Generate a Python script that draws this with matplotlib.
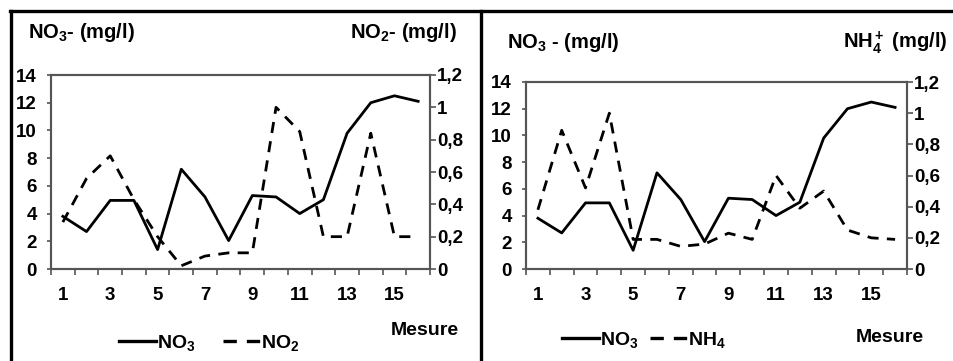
import matplotlib.pyplot as plt
from matplotlib.lines import Line2D

plt.rcParams['font.family'] = ['Liberation Sans', 'DejaVu Sans']
plt.rcParams['font.weight'] = 'bold'
plt.rcParams['mathtext.fontset'] = 'custom'
plt.rcParams['mathtext.rm'] = 'Liberation Sans:bold'
plt.rcParams['mathtext.it'] = 'Liberation Sans:bold'
plt.rcParams['mathtext.bf'] = 'Liberation Sans:bold'
plt.rcParams['mathtext.default'] = 'rm'

#data
mesure = list(range(1, 17))
no3 = [3.8, 2.7, 4.95, 4.95, 1.4, 7.2, 5.2, 2.05, 5.3, 5.2, 4.0, 5.0, 9.8, 12.0, 12.5, 12.1]
no2 = [0.29, 0.56, 0.70, 0.43, 0.20, 0.02, 0.08, 0.10, 0.10, 1.0, 0.85, 0.20, 0.20, 0.84, 0.20, 0.20]
nh4 = [0.38, 0.89, 0.52, 1.0, 0.19, 0.19, 0.145, 0.16, 0.23, 0.19, 0.60, 0.39, 0.50, 0.25, 0.20, 0.19]

left_ticks = [0, 2, 4, 6, 8, 10, 12, 14]
right_ticks = [0, 0.2, 0.4, 0.6, 0.8, 1.0, 1.2]
right_labels = ['0', '0,2', '0,4', '0,6', '0,8', '1', '1,2']
x_labels = [1, 3, 5, 7, 9, 11, 13, 15]

spine_col = '#555555'
dash = (0, (4, 3))

fig = plt.figure(figsize=(9.54, 3.61), dpi=100)


def draw_panel(rect, second, second_name, legend_x, col_space, mesure_xy):
    ax = fig.add_axes(rect)
    ax2 = ax.twinx()
    ax.plot(mesure, no3, color='black', lw=2.0, zorder=3)
    ax2.plot(mesure, second, color='black', lw=2.0, linestyle=dash)

    ax.set_xlim(0.5, 16.5)
    ax.set_ylim(0, 14)
    ax2.set_ylim(0, 1.2)
    ax.set_yticks(left_ticks)
    ax2.set_yticks(right_ticks)
    ax2.set_yticklabels(right_labels)
    ax.set_xticks(x_labels)
    ax.set_xticks([i + 0.5 for i in range(0, 17)], minor=True)

    ax.tick_params(axis='x', which='major', length=0, pad=13, labelsize=13.5)
    ax.tick_params(axis='x', which='minor', length=4, width=1.2, color=spine_col, direction='out')
    ax.tick_params(axis='y', length=3, width=1.2, color=spine_col, pad=7, labelsize=13.5)
    ax2.tick_params(axis='y', length=4, width=1.2, color=spine_col, pad=1, labelsize=13.5)

    for a in (ax, ax2):
        for s in a.spines.values():
            s.set_color(spine_col)
            s.set_linewidth(1.5)

    handles = [Line2D([], [], color='black', lw=2.4),
               Line2D([], [], color='black', lw=2.4, linestyle=dash)]
    ax.legend(handles, ['NO$_3$', second_name], loc='center', bbox_to_anchor=(legend_x, -0.38),
              ncol=2, frameon=False, handlelength=1.9, handletextpad=0.05, columnspacing=col_space,
              prop={'size': 14, 'weight': 'bold'})
    ax.text(mesure_xy[0], mesure_xy[1], 'Mesure', transform=ax.transAxes, ha='center', va='center',
            fontsize=14)
    return ax


#left panel: NO3 and NO2
draw_panel([51 / 954, 92 / 361, 379 / 954, 194 / 361], no2, 'NO$_2$', 0.417, 1.4, (0.985, -0.315))
#right panel: NO3 and NH4
draw_panel([526 / 954, 92 / 361, 381 / 954, 187 / 361], nh4, 'NH$_4$', 0.31, 0.6, (0.955, -0.365))

fig.text(28 / 954, 1 - 33 / 361, 'NO$_3$- (mg/l)', ha='left', va='center', fontsize=14.5)
fig.text(457 / 954, 1 - 33 / 361, 'NO$_2$- (mg/l)', ha='right', va='center', fontsize=14.5)
fig.text(507 / 954, 1 - 43 / 361, 'NO$_3$ - (mg/l)', ha='left', va='center', fontsize=14.5)
fig.text(947 / 954, 1 - 43 / 361, 'NH$_4^+$ (mg/l)', ha='right', va='center', fontsize=14.5)

#black frame lines round the two panels
frame = dict(color='black', lw=2.4, transform=fig.transFigure, clip_on=False)
fig.add_artist(Line2D([10 / 954, 1], [1 - 11 / 361, 1 - 11 / 361], **frame))
fig.add_artist(Line2D([11 / 954, 11 / 954], [0, 1 - 11 / 361], **frame))
fig.add_artist(Line2D([481 / 954, 481 / 954], [0, 1 - 11 / 361], **frame))

fig.savefig('out.png', dpi=100)
